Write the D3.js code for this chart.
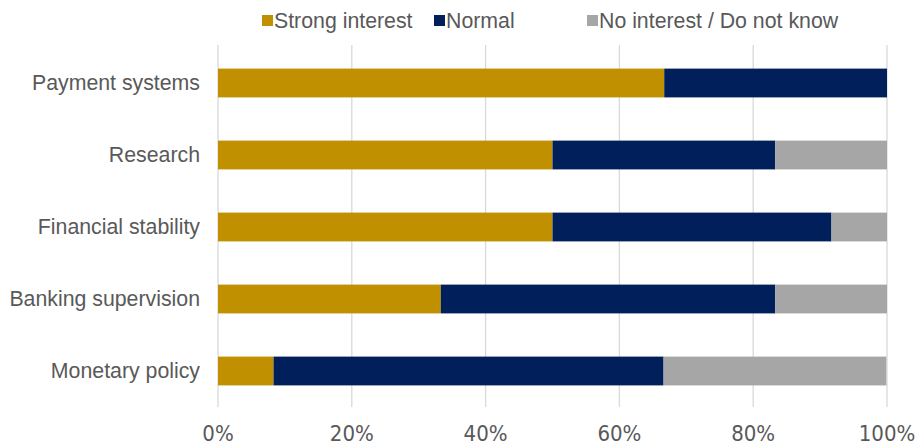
<!DOCTYPE html>
<html><head><meta charset="utf-8">
<script src="https://cdn.jsdelivr.net/npm/d3@7"></script>
<style>body{margin:0;background:#fff}svg{display:block}</style>
</head><body>
<svg id="chart" width="917" height="447"></svg>
<script>
const categories = ["Payment systems","Research","Financial stability","Banking supervision","Monetary policy"];
const seriesNames = ["Strong interest","Normal","No interest / Do not know"];
const strongInterest = [66.7, 50.0, 50.0, 33.3, 8.3];
const normal = [33.3, 33.3, 41.7, 50.0, 58.3];
const noInterest = [0.0, 16.7, 8.3, 16.7, 33.3];
const tickValues = [0, 20, 40, 60, 80, 100];
const colors = ["#C09000", "#001F5B", "#A6A6A6"];

const svg = d3.select("#chart");
const x = d3.scaleLinear().domain([0,100]).range([218, 887]);
const y = d3.scaleBand().domain(categories).range([47, 407]).paddingInner(0.6).paddingOuter(0.3);

// gridlines
svg.append("g").selectAll("line").data(tickValues).join("line")
  .attr("x1", d=>x(d)).attr("x2", d=>x(d)).attr("y1", 45).attr("y2", 407)
  .attr("stroke", "#D9D9D9").attr("stroke-width", 1.3);

const rows = categories.map((c,i)=>({cat:c, vals:[strongInterest[i], normal[i], noInterest[i]]}));
const stacked = [];
rows.forEach(r=>{ let acc=0; r.vals.forEach((v,j)=>{ stacked.push({cat:r.cat, j, x0:acc, x1:acc+v}); acc+=v; }); });

svg.append("g").selectAll("rect").data(stacked.filter(d=>d.x1>d.x0)).join("rect")
  .attr("x", d=>x(d.x0)).attr("width", d=>x(d.x1)-x(d.x0))
  .attr("y", d=>y(d.cat)).attr("height", y.bandwidth())
  .attr("fill", d=>colors[d.j]);

// category labels
svg.append("g").selectAll("text").data(categories).join("text")
  .attr("x", 200).attr("y", d=>y(d)+y.bandwidth()/2).attr("dy","0.35em")
  .attr("text-anchor","end").attr("fill","#595959")
  .style("font-family","'Liberation Sans', Arial, Helvetica, sans-serif").style("font-size","21.3px")
  .text(d=>d);

// x tick labels
svg.append("g").selectAll("text").data(tickValues).join("text")
  .attr("x", d=>x(d)).attr("y", 441).attr("text-anchor","middle").attr("fill","#595959")
  .style("font-family","'Liberation Sans Narrow','DejaVu Sans Condensed', sans-serif")
  .style("font-stretch","condensed").style("font-size","22px")
  .text(d=>d+"%");

// legend
const legendX = [262, 434, 587];
const lg = svg.append("g").selectAll("g").data(seriesNames).join("g")
  .attr("transform",(d,i)=>`translate(${legendX[i]},0)`);
lg.append("rect").attr("x",0).attr("y",15).attr("width",11).attr("height",11).attr("fill",(d,i)=>colors[i]);
lg.append("text").attr("x",12).attr("y",21).attr("dy","0.35em").attr("fill","#595959")
  .style("font-family","'Liberation Sans', Arial, Helvetica, sans-serif").style("font-size","21.3px")
  .text(d=>d);
</script>
</body></html>
